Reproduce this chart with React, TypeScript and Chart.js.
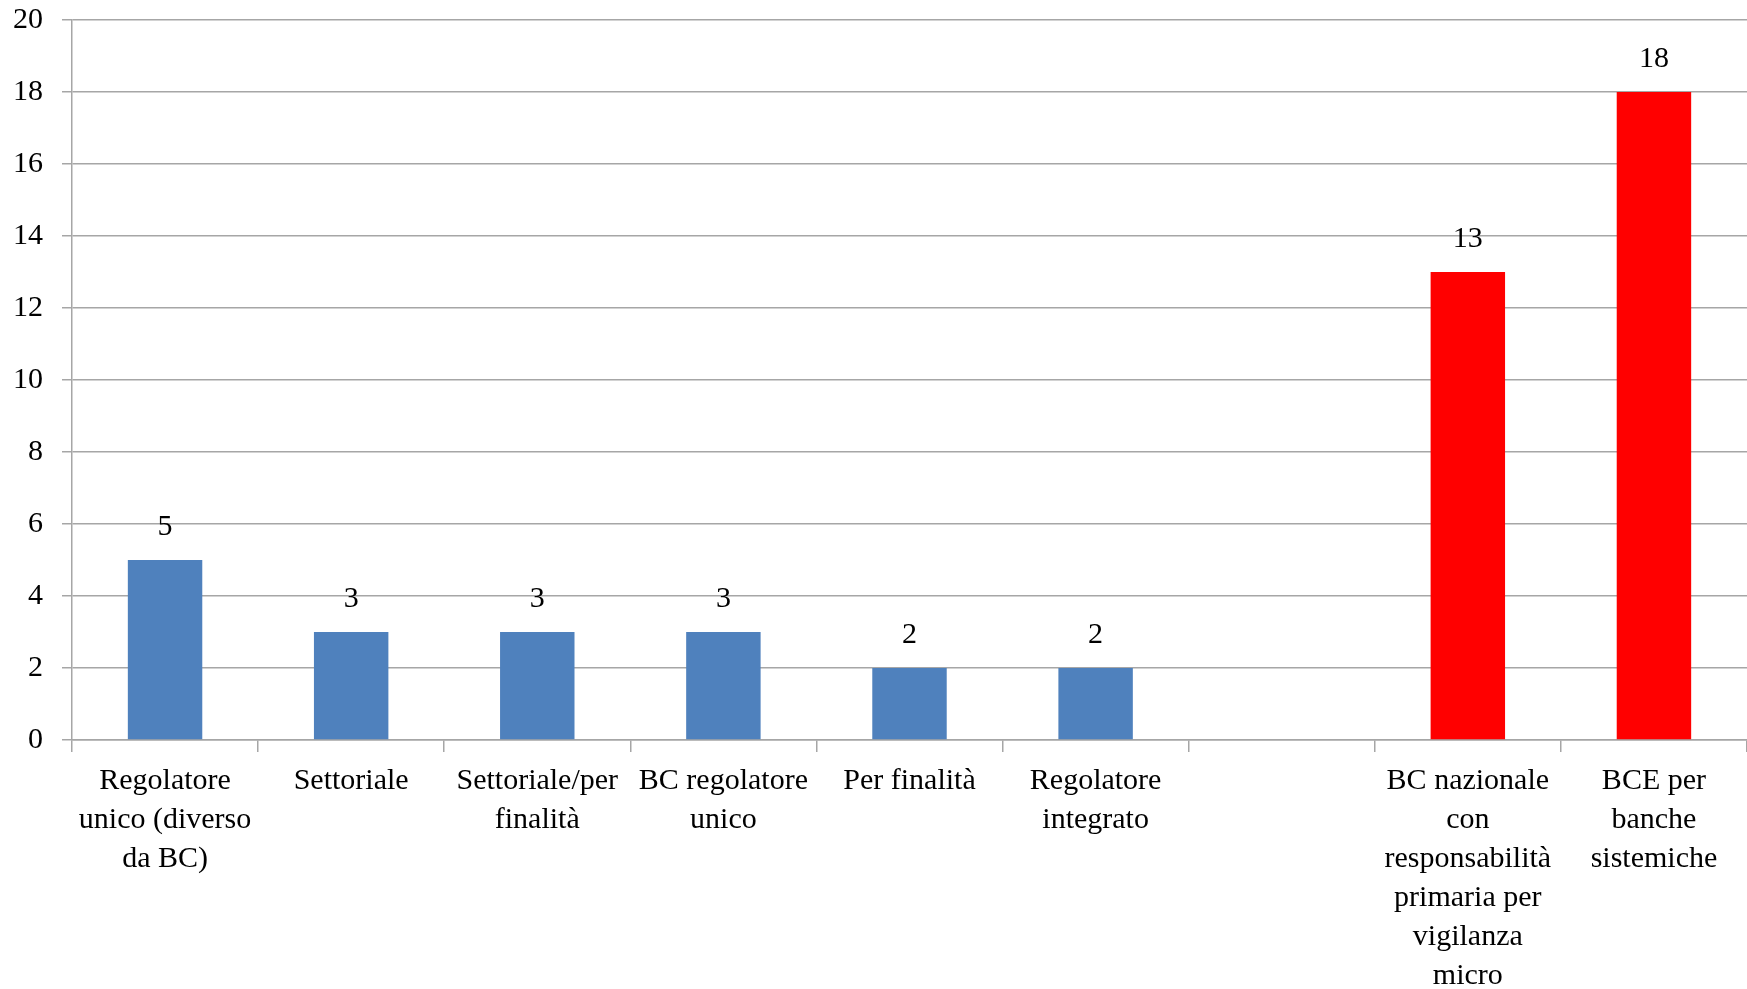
import React, { useEffect, useRef } from "react";
import { Chart, registerables } from "chart.js";

Chart.register(...registerables);

const categories: (string | string[])[] = [
  ["Regolatore", "unico (diverso", "da BC)"],
  "Settoriale",
  ["Settoriale/per", "finalità"],
  ["BC regolatore", "unico"],
  "Per finalità",
  ["Regolatore", "integrato"],
  "",
  ["BC nazionale", "con", "responsabilità", "primaria per", "vigilanza", "micro"],
  ["BCE per", "banche", "sistemiche"],
];

const values: (number | null)[] = [5, 3, 3, 3, 2, 2, null, 13, 18];
const barColors: string[] = [
  "#4F81BD", "#4F81BD", "#4F81BD", "#4F81BD", "#4F81BD", "#4F81BD", "#4F81BD",
  "#FF0000", "#FF0000",
];

const yMin = 0;
const yMax = 20;
const yStep = 2;

const FONT = "'Liberation Serif', 'Times New Roman', serif";

const valueLabels = {
  id: "valueLabels",
  afterDatasetsDraw(chart: any) {
    const ctx = chart.ctx;
    const meta = chart.getDatasetMeta(0);
    ctx.save();
    ctx.font = `30px ${FONT}`;
    ctx.fillStyle = "#000";
    ctx.textAlign = "center";
    ctx.textBaseline = "middle";
    meta.data.forEach((el: any, i: number) => {
      const v = chart.data.datasets[0].data[i];
      if (v === null || v === undefined) return;
      ctx.fillText(String(v), el.x, el.y - 33);
    });
    ctx.restore();
  },
};

export default function App() {
  const ref = useRef<HTMLCanvasElement | null>(null);
  useEffect(() => {
    if (!ref.current) return;
    const chart = new Chart(ref.current, {
      type: "bar",
      data: {
        labels: categories,
        datasets: [
          {
            data: values,
            backgroundColor: barColors,
            borderWidth: 0,
            categoryPercentage: 1,
            barPercentage: 0.4,
          },
        ],
      },
      plugins: [valueLabels],
      options: {
        animation: false,
        responsive: true,
        maintainAspectRatio: false,
        layout: { padding: { top: 20, left: 0, right: 0, bottom: 0 } },
        plugins: {
          legend: { display: false },
          tooltip: { enabled: false },
        },
        scales: {
          x: {
            grid: {
              drawOnChartArea: false,
              drawTicks: true,
              tickLength: 12,
              color: "#A6A6A6",
              lineWidth: 1.5,
            },
            border: { color: "#A6A6A6", width: 1.5 },
            ticks: {
              color: "#000",
              font: { family: FONT, size: 30, lineHeight: 1.3 },
              padding: 10,
              maxRotation: 0,
              autoSkip: false,
            },
            afterFit(scale: any) {
              scale.height = 249;
              scale.paddingLeft = 0;
              scale.paddingRight = 0;
            },
          },
          y: {
            min: yMin,
            max: yMax,
            ticks: {
              stepSize: yStep,
              color: "#000",
              font: { family: FONT, size: 30 },
              padding: 19,
            },
            grid: {
              color: "#A6A6A6",
              lineWidth: 1.5,
              tickLength: 10,
            },
            border: { color: "#A6A6A6", width: 1.5 },
            afterFit(scale: any) {
              scale.width = 72;
              scale.paddingTop = 0;
              scale.paddingBottom = 0;
            },
          },
        },
      },
    });
    return () => chart.destroy();
  }, []);
  return (
    <div style={{ position: "fixed", left: 0, top: 0, width: "1747px", height: "989px", background: "#fff" }}>
      <canvas ref={ref} />
    </div>
  );
}
